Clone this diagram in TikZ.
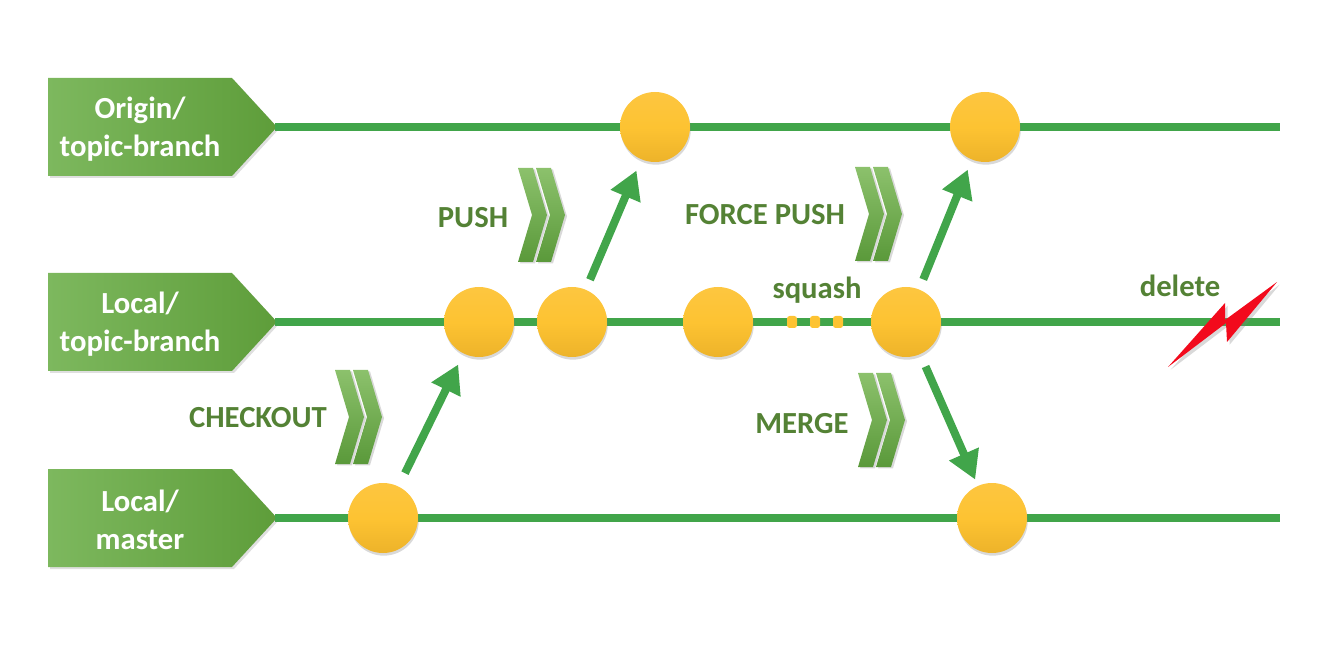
\documentclass[tikz,border=0pt]{standalone}
\usepackage{fontspec}
\setmainfont{Carlito}
\usetikzlibrary{arrows.meta,shadows}
\definecolor{lineG}{HTML}{41A54A}
\definecolor{txtG}{HTML}{548235}
\definecolor{boxL}{HTML}{7DB85E}
\definecolor{boxR}{HTML}{5E9D3A}
\definecolor{cTop}{HTML}{FDC640}
\definecolor{cMid}{HTML}{FDC332}
\definecolor{cBot}{HTML}{EDB32A}
\definecolor{chevT}{HTML}{8CC16C}
\definecolor{chevB}{HTML}{5A993A}
\definecolor{boltR}{HTML}{F20A1C}
\tikzset{
  branch/.style={lineG, line width=6.5pt},
  lblbox/.style={left color=boxL, right color=boxR, draw=none,
     drop shadow={shadow xshift=1.5pt, shadow yshift=-1.5pt, opacity=0.25}},
  lbl/.style={align=center, text=white, inner sep=0pt,
     font=\bfseries\fontsize{23}{29}\selectfont},
  commit/.style={circle, minimum size=52.5pt, inner sep=0pt,
     top color=cTop, bottom color=cBot, middle color=cMid, draw=none,
     drop shadow={shadow xshift=0.6pt, shadow yshift=-2pt, opacity=0.3}},
  sqdot/.style={rectangle, rounded corners=2pt, minimum width=7.5pt,
     minimum height=9pt, inner sep=0pt, fill=cMid},
  flow/.style={lineG, line width=6pt, -{Triangle[length=21pt, width=23pt]}},
  act/.style={text=txtG, anchor=base, inner sep=0pt,
     font=\bfseries\fontsize{23}{28}\selectfont},
  chevpart/.style={top color=chevT, bottom color=chevB, draw=none,
     drop shadow={shadow xshift=1.5pt, shadow yshift=-1pt, opacity=0.3}},
  chev/.pic={
    \foreach \dx in {0,18} {
      \path[chevpart] (\dx,0) -- ++(15,0) -- ++(14,47) -- ++(-14,47)
        -- ++(-15,0) -- ++(14,-47) -- cycle;
    }
  }
}
\begin{document}
\begin{tikzpicture}[x=0.75pt, y=-0.75pt]
\useasboundingbox (0,0) rectangle (1328,648);

% label boxes
\foreach \yy/\nm in {127/T, 322/M, 518/B} {
  \path[lblbox] (48,\yy-49) -- (232,\yy-49) -- (277,\yy) -- (232,\yy+49)
     -- (48,\yy+49) -- cycle;
  \coordinate (tip\nm) at (275,\yy);
  \coordinate (end\nm) at (1280,\yy);
}
\node[lbl] (lT) at (140,129) {Origin/\\topic-branch};
\node[lbl] (lM) at (140,324) {Local/\\topic-branch};
\node[lbl] (lB) at (140,520) {Local/\\master};

% branch lines
\draw[branch] (tipT) -- (endT);
\draw[branch] (tipM) -- (endM);
\draw[branch] (tipB) -- (endB);

% commits
\node[commit] (t1) at (655,127) {};
\node[commit] (t2) at (985,127) {};
\node[commit] (m1) at (479,322) {};
\node[commit] (m2) at (572,322) {};
\node[commit] (m3) at (718,322) {};
\node[commit] (m4) at (906,322) {};
\node[commit] (b1) at (383,518) {};
\node[commit] (b2) at (992,518) {};

% squash dots
\node[sqdot] (d1) at (792,322) {};
\node[sqdot] (d2) at (815,322) {};
\node[sqdot] (d3) at (838,322) {};

% arrows
\draw[flow, shorten <=11pt, shorten >=9pt] (b1) -- (m1);
\draw[flow, shorten <=8pt, shorten >=9pt] (m2) -- (t1);
\draw[flow, shorten <=8pt, shorten >=8pt] (m4) -- (t2);
\draw[flow, shorten <=10pt, shorten >=5pt] (m4) -- (b2);

% chevrons
\pic at (335,370) {chev};
\pic at (518,168) {chev};
\pic at (855,167) {chev};
\pic at (858,373) {chev};

% action labels
\node[act] (aCheckout) at (258,428) {CHECKOUT};
\node[act] (aPush) at (473,228) {PUSH};
\node[act] (aForce) at (765,225) {FORCE PUSH};
\node[act] (aMerge) at (802,434) {MERGE};
\node[act] (aSquash) at (817,299) {squash};
\node[act] (aDelete) at (1180,297) {delete};

% lightning bolt
\fill[boltR, drop shadow={shadow xshift=2pt, shadow yshift=-2pt, opacity=0.3}]
  (1168,367) -- (1225,303) -- (1225,320) -- (1277,282) -- (1227,342)
  -- (1226,323) -- cycle;
\end{tikzpicture}
\end{document}
